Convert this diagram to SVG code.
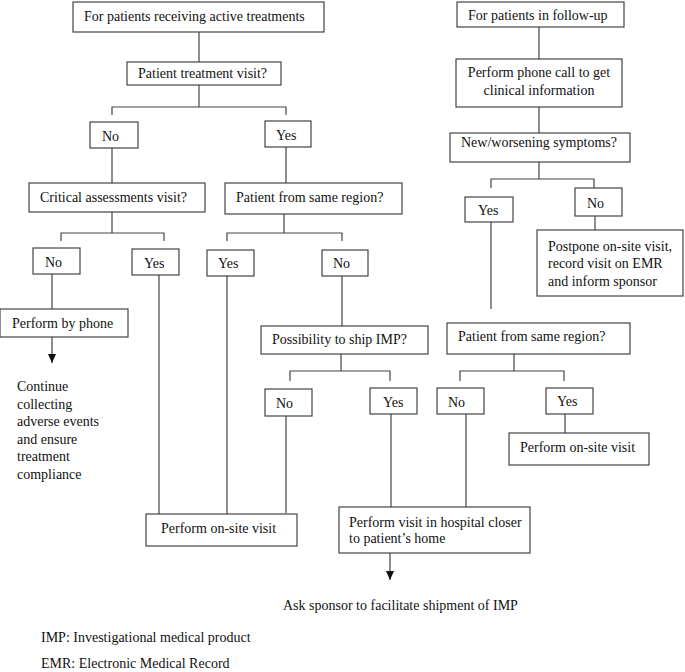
<svg xmlns="http://www.w3.org/2000/svg" width="685" height="672" viewBox="0 0 685 672">
<style>
.b{fill:#fff;stroke:#444;stroke-width:1.2}
.c{fill:none;stroke:#444;stroke-width:1.2}
text{font-family:"Liberation Serif","Times New Roman",serif;font-size:14px;fill:#111}
</style>
<defs>
<marker id="ah" markerWidth="9" markerHeight="8" refX="9" refY="4" orient="auto" markerUnits="userSpaceOnUse" viewBox="0 0 9 8">
<path d="M0,0 L9,4 L0,8 Z" fill="#111"/>
</marker>
</defs>
<rect width="685" height="672" fill="#fff"/>
<g id="connectors">
<path class="c" d="M199,32V62M199,85V107M112,115V107H286V115M112,148V183M286,147V183"/>
<path class="c" d="M112,212V233M61,241V233H164V241M284,214V233M227,241V233H342V241"/>
<path class="c" d="M52,274V309"/>
<path class="c" d="M52,337V363" marker-end="url(#ah)"/>
<path class="c" d="M159,275V514M227,276V514M342,276V326"/>
<path class="c" d="M341,354V371M290,381V371H390V381M286,416V513M391,414V507"/>
<path class="c" d="M539,27V59M539,107V133M539,162V179M491,188V179H594V188M595,216V230M491,222V309"/>
<path class="c" d="M514,354V371M460,381V371H564V381M466,414V507M565,414V433"/>
<path class="c" d="M390,553V580" marker-end="url(#ah)"/>
</g>
<g id="n1"><rect class="b" x="73" y="2" width="251" height="30"/><text x="84" y="21">For patients receiving active treatments</text></g>
<g id="n2"><rect class="b" x="127" y="62" width="154" height="23"/><text x="138" y="78">Patient treatment visit?</text></g>
<g id="n3"><rect class="b" x="90" y="122" width="48" height="26"/><text x="102" y="141">No</text></g>
<g id="n4"><rect class="b" x="265" y="121" width="46" height="26"/><text x="276" y="140">Yes</text></g>
<g id="n5"><rect class="b" x="29" y="183" width="176" height="29"/><text x="40" y="202">Critical assessments visit?</text></g>
<g id="n6"><rect class="b" x="225" y="183" width="177" height="31"/><text x="236" y="202">Patient from same region?</text></g>
<g id="n7"><rect class="b" x="33" y="248" width="47" height="26"/><text x="45" y="267">No</text></g>
<g id="n8"><rect class="b" x="132" y="249" width="47" height="26"/><text x="144" y="268">Yes</text></g>
<g id="n9"><rect class="b" x="207" y="250" width="47" height="26"/><text x="218" y="268">Yes</text></g>
<g id="n10"><rect class="b" x="322" y="250" width="46" height="26"/><text x="333" y="268">No</text></g>
<g id="n11"><rect class="b" x="0" y="309" width="128" height="28"/><text x="12" y="328">Perform by phone</text></g>
<g id="n12"><text x="17" y="391">Continue</text><text x="17" y="408.5">collecting</text><text x="17" y="426">adverse events</text><text x="17" y="443.5">and ensure</text><text x="17" y="461">treatment</text><text x="17" y="478.5">compliance</text></g>
<g id="n13"><rect class="b" x="261" y="326" width="167" height="28"/><text x="272" y="344">Possibility to ship IMP?</text></g>
<g id="n14"><rect class="b" x="265" y="389" width="47" height="27"/><text x="276" y="408">No</text></g>
<g id="n15"><rect class="b" x="370" y="388" width="47" height="26"/><text x="383" y="407">Yes</text></g>
<g id="n16"><rect class="b" x="146" y="514" width="151" height="32"/><text x="161" y="533">Perform on-site visit</text></g>
<g id="n17"><rect class="b" x="339" y="507" width="191" height="46"/><text x="349" y="527">Perform visit in hospital closer</text><text x="349" y="543">to patient’s home</text></g>
<g id="n18"><text x="283" y="610">Ask sponsor to facilitate shipment of IMP</text></g>
<g id="n19"><rect class="b" x="457" y="2" width="167" height="25"/><text x="468" y="20">For patients in follow-up</text></g>
<g id="n20"><rect class="b" x="456" y="59" width="166" height="48"/><text x="539" y="77" text-anchor="middle">Perform phone call to get</text><text x="539" y="95" text-anchor="middle">clinical information</text></g>
<g id="n21"><rect class="b" x="450" y="133" width="180" height="29"/><text x="461" y="147">New/worsening symptoms?</text></g>
<g id="n22"><rect class="b" x="465" y="197" width="48" height="25"/><text x="478" y="215">Yes</text></g>
<g id="n23"><rect class="b" x="575" y="188" width="47" height="28"/><text x="587" y="208">No</text></g>
<g id="n24"><rect class="b" x="537" y="230" width="146" height="66"/><text x="548" y="251">Postpone on-site visit,</text><text x="548" y="268">record visit on EMR</text><text x="548" y="286">and inform sponsor</text></g>
<g id="n25"><rect class="b" x="447" y="323" width="183" height="31"/><text x="458" y="341">Patient from same region?</text></g>
<g id="n26"><rect class="b" x="437" y="388" width="47" height="26"/><text x="448" y="407">No</text></g>
<g id="n27"><rect class="b" x="546" y="388" width="47" height="26"/><text x="557" y="406">Yes</text></g>
<g id="n28"><rect class="b" x="509" y="433" width="140" height="32"/><text x="520" y="452">Perform on-site visit</text></g>
<g id="legend"><text x="41" y="642">IMP: Investigational medical product</text><text x="41" y="668">EMR: Electronic Medical Record</text></g>
</svg>
